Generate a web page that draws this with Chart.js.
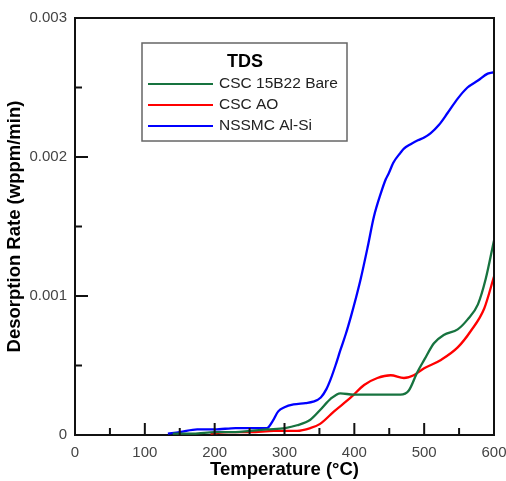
<!DOCTYPE html>
<html lang="en">
<head>
    <meta charset="UTF-8">
    <title>TDS</title>
    <script src="https://cdn.jsdelivr.net/npm/chart.js"></script>
    <style>
        html, body { margin: 0; padding: 0; background: #fff; }
        .grafico { width: 506px; height: 481px; }
    </style>
</head>
<body>
    <div class="grafico">
        <canvas id="graficoTds" width="506" height="481"></canvas>
    </div>

<script>
    // dados (temperatura em C, taxa em wppm/min)
    const tempBare = [140, 170, 200, 230, 251, 275, 301, 318, 337, 351, 366, 380, 399, 420, 442, 466, 478, 490, 500, 514, 528, 548, 562, 577, 588, 600];
    const taxaBare = [0.00001, 0.00001, 0.00002, 0.00002, 0.00003, 0.00004, 0.00005, 0.00007, 0.00011, 0.00018, 0.00026, 0.0003, 0.00029, 0.00029, 0.00029, 0.00029, 0.00032, 0.00045, 0.00054, 0.00066, 0.00072, 0.00076, 0.00083, 0.00094, 0.00112, 0.0014];

    const tempAO = [194, 220, 251, 285, 318, 337, 351, 371, 395, 414, 433, 452, 471, 485, 500, 524, 548, 567, 586, 600];
    const taxaAO = [0.00001, 0.00002, 0.00002, 0.00003, 0.00003, 0.00005, 0.00008, 0.00017, 0.00027, 0.00036, 0.00041, 0.00043, 0.00041, 0.00043, 0.00048, 0.00054, 0.00063, 0.00075, 0.00091, 0.00114];

    const tempAlSi = [133, 150, 175, 200, 230, 260, 275, 283, 291, 300, 313, 330, 341, 352, 360, 366, 373, 380, 388, 395, 402, 409, 419, 428, 438, 445, 449, 456, 466, 471, 480, 491, 500, 509, 521, 534, 548, 562, 577, 591, 600];
    const taxaAlSi = [0.00001, 0.00002, 0.00004, 0.00004, 0.00005, 0.00005, 0.00005, 0.0001, 0.00017, 0.0002, 0.00022, 0.00023, 0.00024, 0.00027, 0.00033, 0.0004, 0.0005, 0.00061, 0.00073, 0.00085, 0.00098, 0.00112, 0.00135, 0.00157, 0.00174, 0.00184, 0.00188, 0.00196, 0.00203, 0.00206, 0.00209, 0.00212, 0.00214, 0.00217, 0.00223, 0.00232, 0.00242, 0.0025, 0.00255, 0.0026, 0.00261];

    const nomes = ['CSC 15B22 Bare', 'CSC AO', 'NSSMC Al-Si'];
    const cores = ['#17733f', '#ff0000', '#0000ff'];

    function pontos(t, v) {
        return t.map((x, i) => ({ x: x, y: v[i] }));
    }

    // marcas de escala para dentro + moldura
    const marcasInternas = {
        id: 'marcasInternas',
        afterDraw(chart) {
            const ctx = chart.ctx;
            const area = chart.chartArea;
            const sx = chart.scales.x;
            const sy = chart.scales.y;
            ctx.save();
            ctx.strokeStyle = '#111';
            ctx.lineWidth = 2;
            ctx.beginPath();
            ctx.moveTo(area.left, area.top);
            ctx.lineTo(area.right, area.top);
            ctx.lineTo(area.right, area.bottom);
            ctx.stroke();

            for (let t = 0; t <= 600; t += 50) {
                const px = sx.getPixelForValue(t);
                const len = t % 100 === 0 ? 12 : 7;
                ctx.beginPath();
                ctx.moveTo(px, area.bottom);
                ctx.lineTo(px, area.bottom - len);
                ctx.stroke();
            }
            for (let k = 0; k <= 6; k++) {
                const py = sy.getPixelForValue(k * 0.0005);
                const len = k % 2 === 0 ? 13 : 7;
                ctx.beginPath();
                ctx.moveTo(area.left, py);
                ctx.lineTo(area.left + len, py);
                ctx.stroke();
            }
            ctx.restore();
        }
    };

    // legenda com caixa, como na figura
    const legendaCaixa = {
        id: 'legendaCaixa',
        afterDraw(chart) {
            const ctx = chart.ctx;
            ctx.save();
            ctx.fillStyle = '#fff';
            ctx.fillRect(142, 43, 205, 98);
            ctx.strokeStyle = '#666';
            ctx.lineWidth = 1.5;
            ctx.strokeRect(142, 43, 205, 98);

            ctx.fillStyle = '#000';
            ctx.font = 'bold 18px "Liberation Sans", Arial, sans-serif';
            ctx.textAlign = 'center';
            ctx.textBaseline = 'middle';
            ctx.fillText('TDS', 245, 62);

            ctx.font = '15.5px "Liberation Sans", Arial, sans-serif';
            ctx.textAlign = 'left';
            chart.data.datasets.forEach((ds, i) => {
                const y = 84 + i * 21;
                ctx.strokeStyle = ds.borderColor;
                ctx.lineWidth = 2;
                ctx.beginPath();
                ctx.moveTo(148, y);
                ctx.lineTo(213, y);
                ctx.stroke();
                ctx.fillStyle = '#222';
                ctx.fillText(ds.label, 219, y);
            });
            ctx.restore();
        }
    };

    const ctx = document.getElementById('graficoTds').getContext('2d');
    new Chart(ctx, {
        type: 'line',
        data: {
            datasets: [
                { label: nomes[0], data: pontos(tempBare, taxaBare), borderColor: cores[0] },
                { label: nomes[1], data: pontos(tempAO, taxaAO), borderColor: cores[1] },
                { label: nomes[2], data: pontos(tempAlSi, taxaAlSi), borderColor: cores[2] }
            ]
        },
        options: {
            responsive: false,
            animation: false,
            layout: { padding: { top: 18, right: 12, left: 0, bottom: 0 } },
            elements: {
                point: { radius: 0 },
                line: { borderWidth: 2.3, cubicInterpolationMode: 'monotone', fill: false }
            },
            plugins: {
                legend: { display: false },
                tooltip: { enabled: false }
            },
            scales: {
                x: {
                    type: 'linear',
                    min: 0,
                    max: 600,
                    afterFit(scale) {
                        scale.height = 46;
                        scale.paddingLeft = 0;
                        scale.paddingRight = 0;
                    },
                    grid: { display: false, drawTicks: false },
                    border: { display: true, color: '#111', width: 2 },
                    ticks: {
                        stepSize: 100,
                        padding: 9,
                        color: '#444',
                        font: { family: '"Liberation Sans", Arial, sans-serif', size: 15 }
                    },
                    title: {
                        display: true,
                        text: 'Temperature (°C)',
                        color: '#000',
                        padding: { top: 0, bottom: 0 },
                        font: { family: '"Liberation Sans", Arial, sans-serif', size: 18.5, weight: 'bold' }
                    }
                },
                y: {
                    min: 0,
                    max: 0.003,
                    afterFit(scale) { scale.width = 75; },
                    grid: { display: false, drawTicks: false },
                    border: { display: true, color: '#111', width: 2 },
                    ticks: {
                        stepSize: 0.001,
                        padding: 8,
                        color: '#444',
                        font: { family: '"Liberation Sans", Arial, sans-serif', size: 15 },
                        callback: v => v === 0 ? '0' : v.toFixed(3)
                    },
                    title: {
                        display: true,
                        text: 'Desorption Rate (wppm/min)',
                        color: '#000',
                        padding: { top: 4, bottom: 0 },
                        font: { family: '"Liberation Sans", Arial, sans-serif', size: 18.5, weight: 'bold' }
                    }
                }
            }
        },
        plugins: [marcasInternas, legendaCaixa]
    });
</script>
</body>
</html>
